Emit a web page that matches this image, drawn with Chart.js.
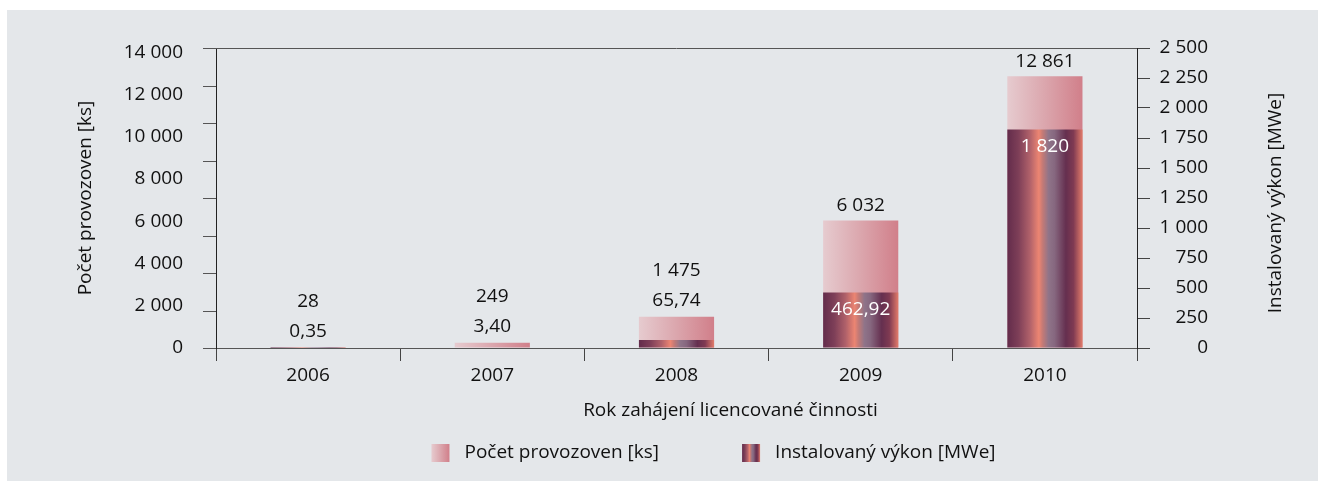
<!DOCTYPE html>
<html>
<head>
<meta charset="utf-8">
<script src="https://cdn.jsdelivr.net/npm/chart.js@4.4.1/dist/chart.umd.min.js"></script>
<style>
  html, body { margin: 0; padding: 0; background: #ffffff; }
  #panel { position: absolute; left: 7px; top: 10px; width: 1311px; height: 471px; background: #e4e7ea; }
  canvas { display: block; }
</style>
</head>
<body>
<div id="panel"><canvas id="chart" width="1311" height="471"></canvas></div>
<script>
// Rok zahájení licencované činnosti
const years = ['2006', '2007', '2008', '2009', '2010'];
// Počet provozoven [ks]
const provozovny = [28, 249, 1475, 6032, 12861];
// Instalovaný výkon [MWe]
const vykon = [0.35, 3.40, 65.74, 462.92, 1820];
// tick labels of the two value axes
const leftTicks = [0, 2000, 4000, 6000, 8000, 10000, 12000, 14000];
const rightTicks = [0, 250, 500, 750, 1000, 1250, 1500, 1750, 2000, 2250, 2500];
// tick marks on the left axis line
const leftMarks = [0, 2000, 4000, 6000, 8000, 10000, 12000, 14000, 16000];

const FONT_FAMILY = "'Open Sans', sans-serif";
const FONT_SIZE = 19;
const TEXT = '#111111';
const CAT_PCT = 0.8;
const BAR_PCT = 0.51;

const PINK_STOPS = [[0, '#e6cbcf'], [0.5, '#dba6ad'], [1, '#d17f8a']];
const DARK_STOPS = [
  [0.00, '#632c4b'], [0.15, '#7e3f58'], [0.30, '#b0616a'], [0.42, '#ec8572'],
  [0.47, '#c47a76'], [0.55, '#8f7489'], [0.63, '#86677f'], [0.78, '#652f4f'],
  [0.88, '#7f3a52'], [1.00, '#e27b6a']
];

function makeGradient(ctx, x0, x1, stops) {
  const g = ctx.createLinearGradient(x0, 0, x1, 0);
  stops.forEach(([o, c]) => g.addColorStop(o, c));
  return g;
}

function barFill(c, stops) {
  const chart = c.chart;
  const xs = chart.scales && chart.scales.x;
  if (!xs || !chart.chartArea || c.dataIndex === undefined) return stops[0][1];
  const cx = xs.getPixelForValue(c.dataIndex);
  const half = xs.width / years.length * CAT_PCT * BAR_PCT / 2;
  if (!isFinite(cx) || !isFinite(half) || half <= 0) return stops[0][1];
  return makeGradient(chart.ctx, cx - half, cx + half, stops);
}

function fmt(v) {
  if (Number.isInteger(v)) return String(v).replace(/\B(?=(\d{3})+(?!\d))/g, ' ');
  return v.toFixed(2).replace('.', ',');
}

const decorations = {
  id: 'decorations',
  afterDatasetsDraw(chart) {
    const ctx = chart.ctx;
    const xs = chart.scales.x, yL = chart.scales.y, yR = chart.scales.y1;
    ctx.save();
    ctx.font = `${FONT_SIZE}px ${FONT_FAMILY}`;
    ctx.textAlign = 'center';
    ctx.textBaseline = 'middle';
    years.forEach((yr, i) => {
      const cx = xs.getPixelForValue(i);
      const topP = yL.getPixelForValue(provozovny[i]);
      const topV = yR.getPixelForValue(vykon[i]);
      const base = yR.getPixelForValue(0);
      let vy, py, vColor;
      if (base - topV > 30) {
        vy = topV + 17; vColor = '#ffffff'; py = topP - 15;
      } else {
        vy = topP - 16; vColor = TEXT; py = vy - 30;
      }
      ctx.fillStyle = TEXT;
      ctx.fillText(fmt(provozovny[i]), cx, py);
      ctx.fillStyle = vColor;
      ctx.fillText(fmt(vykon[i]), cx, vy);
    });
    ctx.restore();
  },
  afterDraw(chart) {
    const ctx = chart.ctx;
    const area = chart.chartArea;
    const marks = chart.scales.yMarks;
    ctx.save();
    // top frame line
    ctx.strokeStyle = '#555';
    ctx.lineWidth = 1;
    ctx.beginPath();
    const ty = Math.round(area.top) + 0.5;
    ctx.moveTo(area.left, ty);
    ctx.lineTo(area.right, ty);
    // tick marks on the left axis
    leftMarks.forEach(v => {
      const y = Math.round(marks.getPixelForValue(v)) + 0.5;
      ctx.moveTo(area.left - 13, y);
      ctx.lineTo(area.left, y);
    });
    ctx.stroke();

    ctx.font = `${FONT_SIZE}px ${FONT_FAMILY}`;
    ctx.fillStyle = TEXT;
    ctx.textBaseline = 'middle';
    const midX = (area.left + area.right) / 2;

    // x axis title
    ctx.textAlign = 'center';
    ctx.fillText('Rok zahájení licencované činnosti', midX + 54, 401);

    // right axis title
    ctx.save();
    ctx.translate(1269, (area.top + area.bottom) / 2 + 5);
    ctx.rotate(-Math.PI / 2);
    ctx.fillText('Instalovaný výkon [MWe]', 0, 0);
    ctx.restore();

    // legend
    const items = chart.data.datasets.map((d, i) => ({
      label: d.label, stops: i === 0 ? PINK_STOPS : DARK_STOPS
    }));
    const box = 18, boxGap = 15, itemGap = 83;
    const widths = items.map(it => box + boxGap + ctx.measureText(it.label).width);
    const total = widths.reduce((a, b) => a + b, 0) + itemGap * (items.length - 1);
    let x = midX + 37 - total / 2;
    const ly = 443;
    ctx.textAlign = 'left';
    items.forEach((it, i) => {
      ctx.fillStyle = makeGradient(ctx, x, x + box, it.stops);
      ctx.fillRect(x, ly - box / 2, box, box);
      ctx.fillStyle = TEXT;
      ctx.fillText(it.label, x + box + boxGap, ly);
      x += widths[i] + itemGap;
    });
    ctx.restore();
  }
};

Chart.defaults.font.family = FONT_FAMILY;
Chart.defaults.font.size = FONT_SIZE;
Chart.defaults.color = TEXT;

new Chart(document.getElementById('chart'), {
  type: 'bar',
  data: {
    labels: years,
    datasets: [
      {
        label: 'Počet provozoven [ks]',
        data: provozovny,
        yAxisID: 'y',
        order: 1,
        grouped: false,
        categoryPercentage: CAT_PCT,
        barPercentage: BAR_PCT,
        borderWidth: 0,
        backgroundColor: c => barFill(c, PINK_STOPS)
      },
      {
        label: 'Instalovaný výkon [MWe]',
        data: vykon,
        yAxisID: 'y1',
        order: 0,
        grouped: false,
        categoryPercentage: CAT_PCT,
        barPercentage: BAR_PCT,
        borderWidth: 0,
        backgroundColor: c => barFill(c, DARK_STOPS)
      }
    ]
  },
  options: {
    responsive: false,
    animation: false,
    devicePixelRatio: 1,
    events: [],
    layout: { padding: { left: 67, right: 110, top: 38, bottom: 0 } },
    plugins: {
      legend: { display: false },
      tooltip: { enabled: false }
    },
    scales: {
      x: {
        type: 'category',
        offset: true,
        grid: { display: true, offset: true, drawOnChartArea: false, tickLength: 13, color: '#444' },
        border: { display: true, color: '#555' },
        ticks: { padding: 3, maxRotation: 0, color: TEXT },
        afterFit(s) { s.height = 133; }
      },
      y: {
        position: 'left',
        min: 0,
        max: 14200,
        afterBuildTicks(s) { s.ticks = leftTicks.map(value => ({ value })); },
        grid: { display: true, drawOnChartArea: false, tickLength: 13, color: 'rgba(0,0,0,0)' },
        border: { display: true, color: '#222' },
        ticks: { padding: 20, color: TEXT, callback: v => fmt(v) },
        title: { display: true, text: 'Počet provozoven [ks]', padding: 0, color: TEXT },
        afterFit(s) { s.width = 142; }
      },
      yMarks: {
        position: 'left',
        display: false,
        min: 0,
        max: 16000,
        afterFit(s) { s.width = 0; }
      },
      y1: {
        position: 'right',
        min: 0,
        max: 2500,
        afterBuildTicks(s) { s.ticks = rightTicks.map(value => ({ value })); },
        grid: { display: true, drawOnChartArea: false, tickLength: 13, color: '#444' },
        border: { display: true, color: '#222' },
        ticks: { padding: 10, crossAlign: 'far', color: TEXT, callback: v => fmt(v) },
        afterFit(s) { s.width = 71; }
      }
    }
  },
  plugins: [decorations]
});
</script>
</body>
</html>
